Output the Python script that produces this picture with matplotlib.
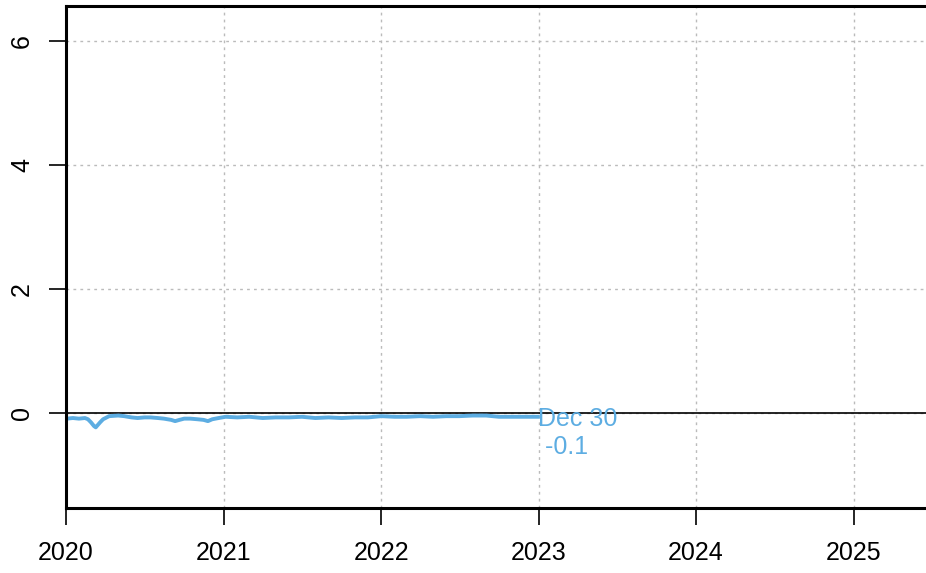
import numpy as np
import pandas as pd
import matplotlib
matplotlib.use("Agg")
import matplotlib.pyplot as plt
import matplotlib.dates as mdates

plt.rcParams['font.family'] = ['Liberation Sans', 'DejaVu Sans']

# series
dates = ["2020-01-03", "2020-01-17", "2020-01-31", "2020-02-14", "2020-02-21",
         "2020-02-28", "2020-03-06", "2020-03-10", "2020-03-20", "2020-03-27",
         "2020-04-10", "2020-05-01", "2020-05-15", "2020-06-01", "2020-06-15",
         "2020-07-01", "2020-07-15", "2020-08-01", "2020-08-15", "2020-09-01",
         "2020-09-10", "2020-09-20", "2020-10-01", "2020-10-15", "2020-11-01",
         "2020-11-15", "2020-11-25", "2020-12-05", "2020-12-20", "2021-01-05",
         "2021-02-01", "2021-03-01", "2021-04-01", "2021-05-01", "2021-06-01",
         "2021-07-01", "2021-08-01", "2021-09-01", "2021-10-01", "2021-11-01",
         "2021-12-01", "2022-01-01", "2022-02-01", "2022-03-01", "2022-04-01",
         "2022-05-01", "2022-06-01", "2022-07-01", "2022-08-01", "2022-09-01",
         "2022-10-01", "2022-11-01", "2022-12-30"]
values = [-0.09, -0.08, -0.09, -0.08, -0.10,
          -0.15, -0.21, -0.23, -0.15, -0.10,
          -0.05, -0.04, -0.05, -0.07, -0.08,
          -0.07, -0.07, -0.08, -0.09, -0.11,
          -0.13, -0.11, -0.09, -0.09, -0.10,
          -0.11, -0.13, -0.10, -0.08, -0.06,
          -0.07, -0.06, -0.08, -0.07, -0.07,
          -0.06, -0.08, -0.07, -0.08, -0.07,
          -0.07, -0.05, -0.06, -0.06, -0.05,
          -0.06, -0.05, -0.05, -0.04, -0.04,
          -0.06, -0.06, -0.06]
year_ticks = [2020, 2021, 2022, 2023, 2024, 2025]
y_ticks = [0, 2, 4, 6]

x = pd.to_datetime(dates)
line_col = '#5DADE2'

fig = plt.figure(figsize=(9.26, 5.73), dpi=100)
ax = fig.add_axes([66/926, 65/573, 860/926, 502/573])

ax.plot(x, values, color=line_col, lw=2.8, solid_joinstyle='round')
ax.axhline(0, color='black', lw=1.2, zorder=1)

last = x[-1]
ax.annotate(last.strftime('%b %d') + '\n ' + f"{values[-1]:.1f}",
            xy=(last, values[-1]), xytext=(0, 7), textcoords='offset points',
            color=line_col, fontsize=18, va='top', ha='left', linespacing=1.2)

ax.set_xlim(pd.Timestamp('2020-01-01'), pd.Timestamp('2025-06-17'))
ax.set_ylim(-1.53, 6.56)

ax.set_xticks([pd.Timestamp(f'{y}-01-01') for y in year_ticks])
ax.set_xticklabels([str(y) for y in year_ticks])
ax.set_yticks(y_ticks)
ax.set_yticklabels([str(v) for v in y_ticks], rotation=90, va='center')

ax.grid(True, color='#BBBBBB', linestyle=(0, (2, 3)), lw=1)
ax.set_axisbelow(True)

for s in ['left', 'bottom', 'top']:
    ax.spines[s].set_linewidth(2.2)
ax.spines['right'].set_visible(False)

ax.tick_params(axis='both', length=12, width=1.2, labelsize=18)
ax.tick_params(axis='y', pad=11)
ax.tick_params(axis='x', pad=12)

fig.savefig('out.png', dpi=100)
